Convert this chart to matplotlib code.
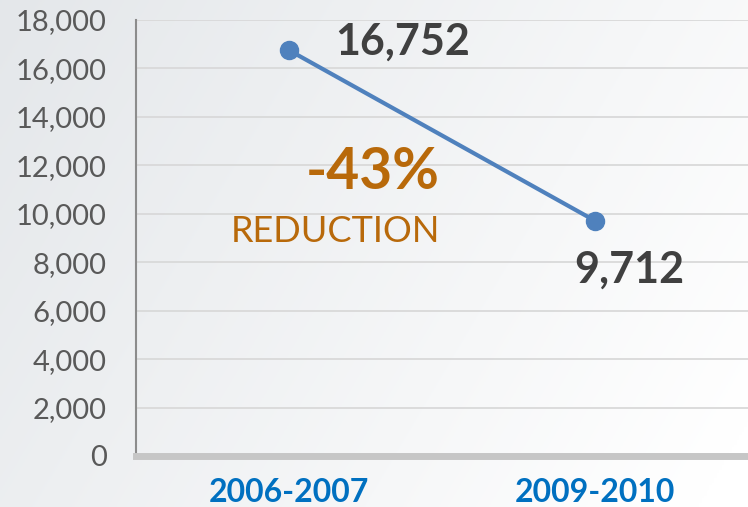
import matplotlib
matplotlib.use('Agg')
import matplotlib.pyplot as plt
import numpy as np

# data
periods = ['2006-2007', '2009-2010']
counts = [16752, 9712]
value_labels = ['16,752', '9,712']
yticks = list(range(0, 18001, 2000))

plt.rcParams['font.family'] = ['Lato', 'DejaVu Sans']

fig = plt.figure(figsize=(7.48, 5.07), dpi=100)

# background gradient (grey top-left -> white bottom-right)
bg = fig.add_axes([0, 0, 1, 1], zorder=0)
gx, gy = np.meshgrid(np.linspace(0, 1, 300), np.linspace(0, 1, 200))
t = np.clip(0.75 * gx + 0.3 * gy, 0, 1)
c0 = np.array([0.894, 0.906, 0.918])
c1 = np.array([1.0, 1.0, 1.0])
img = c0[None, None, :] * (1 - t[..., None]) + c1[None, None, :] * t[..., None]
bg.imshow(img, aspect='auto', extent=[0, 1, 0, 1], origin='upper')
bg.axis('off')

ax = fig.add_axes([136 / 748, 1 - 456 / 507, 1 - 136 / 748, (456 - 20) / 507], zorder=1)
ax.patch.set_alpha(0)

x = np.arange(len(periods))
ax.plot(x, counts, '-o', color='#4F81BD', linewidth=3, markersize=13, zorder=3)

ax.set_xlim(-0.5, 1.5)
ax.set_ylim(0, 18000)
ax.set_yticks(yticks)
ax.set_yticklabels([f'{v:,}' for v in yticks], fontsize=21, color='#595959')
ax.set_xticks(x)
ax.set_xticklabels(periods, fontsize=23, fontweight='bold', color='#0070C0')
ax.tick_params(axis='both', length=0)
ax.tick_params(axis='y', pad=21)
ax.tick_params(axis='x', pad=16)

ax.grid(axis='y', color='#d9d9d9', linewidth=1.3)
ax.set_axisbelow(True)
for s in ['top', 'right']:
    ax.spines[s].set_visible(False)
ax.spines['left'].set_color('#8c8c8c')
ax.spines['left'].set_linewidth(1.5)
ax.spines['bottom'].set_color('#c6c6c6')
ax.spines['bottom'].set_linewidth(5)

# data labels
ax.annotate(value_labels[0], (x[0], counts[0]), xytext=(33, 6), textcoords='offset points',
            ha='left', va='center', fontsize=31, fontweight='bold', color='#404040')
ax.annotate(value_labels[1], (x[1], counts[1]), xytext=(25, -35), textcoords='offset points',
            ha='center', va='center', fontsize=31, fontweight='bold', color='#404040')

ax.text(0.497, 0.651, '-43%', transform=ax.transAxes, ha='right', va='center',
        fontsize=41, fontweight='bold', color='#B8690A')
ax.text(0.497, 0.516, 'REDUCTION', transform=ax.transAxes, ha='right', va='center',
        fontsize=26, color='#B8690A')

fig.savefig('out.png', dpi=100)
